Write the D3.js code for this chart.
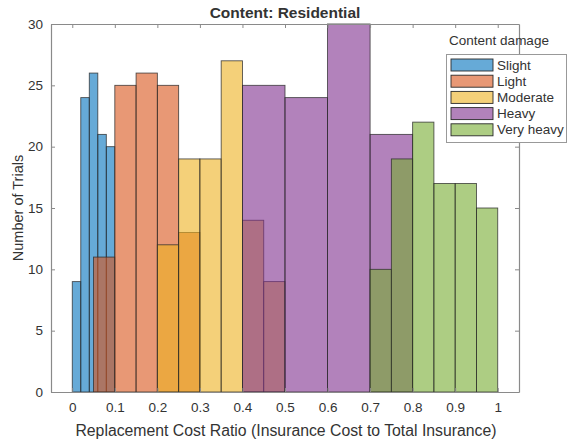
<!DOCTYPE html>
<meta charset="utf-8">
<style>
    body { margin: 0; background: #fff; }
    text { font-family: "Liberation Sans", Arial, sans-serif; fill: #333; }
</style>
<body>
<div id="chart"></div>
<script src="https://d3js.org/d3.v7.min.js"></script>
<script>

    // histogram data (bin edges + counts)
    var seriesNames = ["Slight", "Light", "Moderate", "Heavy", "Very heavy"];
    var seriesColors = ["#0072bd", "#d95319", "#edb120", "#7e2f8e", "#77ac30"];

    var slightEdges = [0, 0.02, 0.04, 0.06, 0.08, 0.1],
        slightCounts = [9, 24, 26, 21, 20];
    var lightEdges = [0.05, 0.1, 0.15, 0.2, 0.25, 0.3],
        lightCounts = [11, 25, 26, 25, 13];
    var moderateEdges = [0.2, 0.25, 0.3, 0.35, 0.4, 0.45, 0.5],
        moderateCounts = [12, 19, 19, 27, 14, 9];
    var heavyEdges = [0.4, 0.5, 0.6, 0.7, 0.8],
        heavyCounts = [25, 24, 30, 21];
    var veryHeavyEdges = [0.7, 0.75, 0.8, 0.85, 0.9, 0.95, 1.0],
        veryHeavyCounts = [10, 19, 22, 17, 17, 15];

    var xTicks = [0, 0.1, 0.2, 0.3, 0.4, 0.5, 0.6, 0.7, 0.8, 0.9, 1],
        yTicks = [0, 5, 10, 15, 20, 25, 30];

    var allSeries = [
        [slightEdges, slightCounts],
        [lightEdges, lightCounts],
        [moderateEdges, moderateCounts],
        [heavyEdges, heavyCounts],
        [veryHeavyEdges, veryHeavyCounts]
    ];

    var svg_dx = 568, svg_dy = 442;
    var plot = {left: 51, right: 519, top: 24, bottom: 392};

    var x = d3.scaleLinear().domain([-0.05, 1.05]).range([plot.left, plot.right]),
        y = d3.scaleLinear().domain([0, 30]).range([plot.bottom, plot.top]);

    var svg = d3.select("#chart")
                .append("svg")
                .attr("width", svg_dx)
                .attr("height", svg_dy);

    // bars
    allSeries.forEach(function (s, k) {
        var edges = s[0], counts = s[1];
        var bins = counts.map((c, i) => ({x0: edges[i], x1: edges[i + 1], n: c}));
        svg.append("g")
           .selectAll("rect")
           .data(bins)
           .enter()
           .append("rect")
           .attr("x", d => x(d.x0))
           .attr("width", d => x(d.x1) - x(d.x0))
           .attr("y", d => y(d.n))
           .attr("height", d => y(0) - y(d.n))
           .attr("fill", seriesColors[k])
           .attr("fill-opacity", 0.6)
           .attr("stroke", "#2a2a2a")
           .attr("stroke-opacity", 0.8)
           .attr("stroke-width", 0.9);
    });

    // axes (box with inward ticks, MATLAB style)
    var axisColor = "#8a8a8a";

    var axis_x = d3.axisBottom(x).tickValues(xTicks).tickFormat(d3.format("")).tickSizeInner(-4).tickSizeOuter(0).tickPadding(10),
        axis_y = d3.axisLeft(y).tickValues(yTicks).tickSizeInner(-4).tickSizeOuter(0).tickPadding(8);

    var gx = svg.append("g")
       .attr("transform", "translate(0," + plot.bottom + ")")
       .call(axis_x);
    var gy = svg.append("g")
       .attr("transform", "translate(" + plot.left + ",0)")
       .call(axis_y);

    var gxTop = svg.append("g")
       .attr("transform", "translate(0," + plot.top + ")")
       .call(d3.axisTop(x).tickValues(xTicks).tickSizeInner(-4).tickSizeOuter(0).tickFormat(""));
    var gyRight = svg.append("g")
       .attr("transform", "translate(" + plot.right + ",0)")
       .call(d3.axisRight(y).tickValues(yTicks).tickSizeInner(-4).tickSizeOuter(0).tickFormat(""));

    [gx, gy, gxTop, gyRight].forEach(function (g) {
        g.select(".domain").attr("stroke", axisColor).attr("stroke-width", 1.2);
        g.selectAll(".tick line").attr("stroke", axisColor);
        g.selectAll(".tick text")
         .style("font-family", "'Liberation Sans', Arial, sans-serif")
         .style("font-size", "13.5px")
         .attr("fill", "#333");
    });

    // titles
    svg.append("text")
       .attr("x", (plot.left + plot.right) / 2)
       .attr("y", 18)
       .attr("text-anchor", "middle")
       .style("font-size", "15.5px")
       .style("font-weight", "bold")
       .attr("fill", "#111")
       .text("Content: Residential");

    svg.append("text")
       .attr("x", (plot.left + plot.right) / 2 + 1)
       .attr("y", 436)
       .attr("text-anchor", "middle")
       .style("font-size", "15.8px")
       .text("Replacement Cost Ratio (Insurance Cost to Total Insurance)");

    svg.append("text")
       .attr("transform", "translate(23," + ((plot.top + plot.bottom) / 2) + ") rotate(-90)")
       .attr("text-anchor", "middle")
       .style("font-size", "14.5px")
       .text("Number of Trials");

    // legend
    var legend = svg.append("g");

    legend.append("text")
       .attr("x", 499)
       .attr("y", 45)
       .attr("text-anchor", "middle")
       .style("font-size", "13.5px")
       .text("Content damage");

    legend.append("rect")
       .attr("x", 446.5)
       .attr("y", 54.5)
       .attr("width", 120)
       .attr("height", 88)
       .attr("fill", "#fff")
       .attr("stroke", "#999")
       .attr("stroke-width", 1);

    var items = legend.selectAll("g.item")
       .data(seriesNames)
       .enter()
       .append("g")
       .attr("class", "item")
       .attr("transform", (d, i) => "translate(451," + (59 + i * 16.2) + ")");

    items.append("rect")
       .attr("width", 42)
       .attr("height", 12)
       .attr("fill", (d, i) => seriesColors[i])
       .attr("fill-opacity", 0.6)
       .attr("stroke", "#2a2a2a")
       .attr("stroke-width", 0.9);

    items.append("text")
       .attr("x", 46)
       .attr("y", 10.5)
       .style("font-size", "13.5px")
       .text(d => d);

</script>
</body>
